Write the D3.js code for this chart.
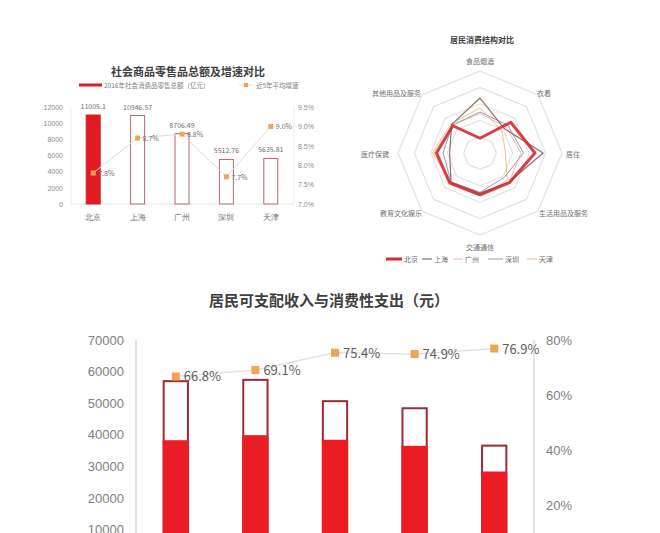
<!DOCTYPE html>
<html><head><meta charset="utf-8">
<script src="https://cdn.jsdelivr.net/npm/d3@7/dist/d3.min.js"></script>
<style>
body{margin:0;background:#fff;}
svg{display:block;font-family:"Noto Sans CJK SC","Microsoft YaHei",sans-serif;}
</style></head>
<body><svg id="c" width="660" height="533"></svg>
<script>
// ---------- Data ----------
const retailCities = ["北京","上海","广州","深圳","天津"];
const retailTotals = [11005.1, 10946.57, 8706.49, 5512.76, 5635.81];
const retailTotalLabels = ["11005.1","10946.57","8706.49","5512.76","5635.81"];
const retailGrowth = [7.8, 8.7, 8.8, 7.7, 9.0];
const retailLeftTicks = [0,2000,4000,6000,8000,10000,12000];
const retailRightTicks = [7.0,7.5,8.0,8.5,9.0,9.5];

const radarAxes = ["食品烟酒","衣着","居住","生活用品及服务","交通通信","教育文化娱乐","医疗保健","其他用品及服务"];
const radarSeriesNames = ["北京","上海","广州","深圳","天津"];
const radarBeijing  = [0.18, 0.53, 0.67, 0.51, 0.51, 0.52, 0.53, 0.47];
const radarShanghai = [0.67, 0.42, 0.77, 0.50, 0.49, 0.50, 0.37, 0.49];
const radarGuangzhou= [0.48, 0.45, 0.50, 0.50, 0.50, 0.52, 0.56, 0.48];
const radarShenzhen = [0.50, 0.48, 0.53, 0.42, 0.48, 0.50, 0.45, 0.48];
const radarTianjin  = [0.55, 0.38, 0.31, 0.47, 0.52, 0.51, 0.58, 0.50];

const incomeCities = ["北京","上海","广州","深圳","天津"];
const incomeDisposable = [57275, 57692, 50941, 48695, 36860];
const incomeConsumption = [38256, 39857, 38398, 36481, 28345];
const consumptionRate = [66.8, 69.1, 75.4, 74.9, 76.9];
const incomeLeftTicks = [10000,20000,30000,40000,50000,60000,70000];
const incomeRightTicks = [20,40,60,80];

// ---------- Setup ----------
const svg = d3.select("#c");
const RED = "#e41a22", OUT = "#b9686a", ORANGE = "#f0a452", GRID = "#dcdcdc";

// ===== Chart 1: retail =====
(function(){
  const g = svg.append("g");
  const x = d3.scaleBand().domain(retailCities).range([71,293]).paddingInner(0.685).paddingOuter(0.3425);
  const yL = d3.scaleLinear().domain([0,12000]).range([204,107]);
  const yR = d3.scaleLinear().domain([7.0,9.5]).range([204,107]);

  g.append("text").attr("x",188).attr("y",76).attr("text-anchor","middle")
    .attr("font-size",11).attr("font-weight","bold").attr("fill","#404040").text("社会商品零售品总额及增速对比");
  // legend
  g.append("rect").attr("x",79).attr("y",83.5).attr("width",23).attr("height",3).attr("fill",RED);
  g.append("text").attr("x",104).attr("y",87.5).attr("font-size",6.5).attr("fill","#808080").text("2016年社会消费品零售总额（亿元）");
  g.append("line").attr("x1",239).attr("x2",253).attr("y1",85).attr("y2",85).attr("stroke",GRID);
  g.append("rect").attr("x",244).attr("y",83).attr("width",4).attr("height",4).attr("fill",ORANGE);
  g.append("text").attr("x",256).attr("y",87.5).attr("font-size",6.5).attr("fill","#808080").text("近5年平均增速");

  // axes lines
  g.append("line").attr("x1",71).attr("x2",71).attr("y1",107).attr("y2",204).attr("stroke","#ececec");
  g.append("line").attr("x1",294).attr("x2",294).attr("y1",107).attr("y2",204).attr("stroke","#ececec");
  g.append("line").attr("x1",71).attr("x2",294).attr("y1",204).attr("y2",204).attr("stroke","#e4e4e4");

  const la = d3.axisLeft(yL).tickValues(retailLeftTicks).tickSize(0).tickPadding(8).tickFormat(d3.format("d"));
  g.append("g").attr("transform","translate(71,0)").call(la)
    .call(s=>{s.select(".domain").remove(); s.selectAll("text").attr("font-size",7).attr("fill","#8c8c8c").attr("font-family","inherit");});
  const ra = d3.axisRight(yR).tickValues(retailRightTicks).tickSize(0).tickPadding(4).tickFormat(d=>d.toFixed(1)+"%");
  g.append("g").attr("transform","translate(294,0)").call(ra)
    .call(s=>{s.select(".domain").remove(); s.selectAll("text").attr("font-size",7).attr("fill","#8c8c8c").attr("font-family","inherit");});
  const xa = d3.axisBottom(x).tickSize(0).tickPadding(10);
  g.append("g").attr("transform","translate(0,204)").call(xa)
    .call(s=>{s.select(".domain").remove(); s.selectAll("text").attr("font-size",8).attr("fill","#707070").attr("font-family","inherit");});

  g.selectAll(".b1").data(retailCities).join("rect")
    .attr("x",d=>x(d)).attr("width",x.bandwidth())
    .attr("y",(d,i)=>yL(retailTotals[i])).attr("height",(d,i)=>yL(0)-yL(retailTotals[i]))
    .attr("fill",(d,i)=>i===0?RED:"#fff").attr("stroke",(d,i)=>i===0?"#c8222a":OUT).attr("stroke-width",1);
  g.selectAll(".bl1").data(retailCities).join("text")
    .attr("x",d=>x(d)+x.bandwidth()/2).attr("y",(d,i)=>yL(retailTotals[i])-6)
    .attr("text-anchor","middle").attr("font-size",7).attr("fill","#707070").text((d,i)=>retailTotalLabels[i]);

  const line = d3.line().x((d,i)=>x(retailCities[i])+x.bandwidth()/2).y(d=>yR(d));
  g.append("path").datum(retailGrowth).attr("d",line).attr("fill","none").attr("stroke",GRID).attr("stroke-width",1);
  g.selectAll(".m1").data(retailGrowth).join("rect")
    .attr("x",(d,i)=>x(retailCities[i])+x.bandwidth()/2-2.5).attr("y",d=>yR(d)-2.5)
    .attr("width",5).attr("height",5).attr("fill",ORANGE);
  g.selectAll(".ml1").data(retailGrowth).join("text")
    .attr("x",(d,i)=>x(retailCities[i])+x.bandwidth()/2+5).attr("y",d=>yR(d)+3)
    .attr("font-size",7).attr("fill","#707070").text(d=>d.toFixed(1)+"%");
})();

// ===== Chart 2: radar =====
(function(){
  const g = svg.append("g");
  const cx = 480, cy = 153, R = 82;
  const r = d3.scaleLinear().domain([0,1]).range([0,R]);
  const n = radarAxes.length;
  const ang = i => i*2*Math.PI/n;

  g.append("text").attr("x",482).attr("y",43).attr("text-anchor","middle")
    .attr("font-size",8).attr("font-weight","bold").attr("fill","#404040").text("居民消费结构对比");

  const gg = g.append("g").attr("transform",`translate(${cx},${cy})`);
  const radial = d3.lineRadial().angle((d,i)=>ang(i)).radius(d=>r(d)).curve(d3.curveLinearClosed);
  [0.2,0.4,0.6,0.8,1.0].forEach(v=>{
    gg.append("path").attr("d",radial(d3.range(n).map(()=>v))).attr("fill","none").attr("stroke","#e3e3e3").attr("stroke-width",1.2);
  });

  const series = [
    {name:"北京", vals:radarBeijing, color:"#d62a30", w:3, op:0.9},
    {name:"上海", vals:radarShanghai, color:"#8a7070", w:1.2, op:1},
    {name:"广州", vals:radarGuangzhou, color:"#f2b8b0", w:1, op:1},
    {name:"深圳", vals:radarShenzhen, color:"#9a9aa8", w:1, op:1},
    {name:"天津", vals:radarTianjin, color:"#e9c48c", w:1, op:1}
  ];
  [2,4,3,1,0].forEach(k=>{
    const s = series[k];
    gg.append("path").attr("d",radial(s.vals)).attr("fill","none").attr("stroke",s.color)
      .attr("stroke-width",s.w).attr("stroke-opacity",s.op).attr("stroke-linejoin","round");
  });

  const labelPos = [
    {x:480,y:64,a:"middle"},{x:537,y:96,a:"start"},{x:566,y:157,a:"start"},{x:539,y:216,a:"start"},
    {x:480,y:250,a:"middle"},{x:422,y:216,a:"end"},{x:389,y:157,a:"end"},{x:421,y:96,a:"end"}
  ];
  radarAxes.forEach((t,i)=>{
    g.append("text").attr("x",labelPos[i].x).attr("y",labelPos[i].y).attr("text-anchor",labelPos[i].a)
      .attr("font-size",7).attr("fill","#707070").text(t);
  });

  const legX = [[386,402],[422,432],[453,463],[488,503],[527,537]];
  series.forEach((s,i)=>{
    g.append("line").attr("x1",legX[i][0]).attr("x2",legX[i][1]).attr("y1",259).attr("y2",259)
      .attr("stroke",s.color).attr("stroke-width",s.w);
    g.append("text").attr("x",legX[i][1]+2).attr("y",261.5).attr("font-size",7).attr("fill","#707070").text(radarSeriesNames[i]);
  });
})();

// ===== Chart 3: income =====
(function(){
  const g = svg.append("g");
  const x = d3.scaleBand().domain(incomeCities).range([136,534]).paddingInner(0.67).paddingOuter(0.335);
  const yL = d3.scaleLinear().domain([0,70000]).range([561,340]);
  const yR = d3.scaleLinear().domain([0,80]).range([561,340]);

  g.append("text").attr("x",329).attr("y",306).attr("text-anchor","middle")
    .attr("font-size",15).attr("font-weight","bold").attr("fill","#404040").text("居民可支配收入与消费性支出（元）");

  g.append("line").attr("x1",136).attr("x2",136).attr("y1",340).attr("y2",561).attr("stroke","#d0d0d0").attr("stroke-width",1.2);
  g.append("line").attr("x1",534).attr("x2",534).attr("y1",340).attr("y2",561).attr("stroke","#d0d0d0").attr("stroke-width",1.2);

  const la = d3.axisLeft(yL).tickValues(incomeLeftTicks).tickSize(0).tickPadding(12).tickFormat(d3.format("d"));
  g.append("g").attr("transform","translate(136,0)").call(la)
    .call(s=>{s.select(".domain").remove(); s.selectAll("text").attr("font-size",13).attr("fill","#808080").attr("font-family","inherit");});
  const ra = d3.axisRight(yR).tickValues(incomeRightTicks).tickSize(0).tickPadding(12).tickFormat(d=>d+"%");
  g.append("g").attr("transform","translate(534,0)").call(ra)
    .call(s=>{s.select(".domain").remove(); s.selectAll("text").attr("font-size",13).attr("fill","#808080").attr("font-family","inherit");});

  g.selectAll(".tot").data(incomeCities).join("rect")
    .attr("x",d=>x(d)+1).attr("width",x.bandwidth()-2)
    .attr("y",(d,i)=>yL(incomeDisposable[i])+1).attr("height",(d,i)=>yL(0)-yL(incomeDisposable[i]))
    .attr("fill","#fff").attr("stroke","#9e2a34").attr("stroke-width",2);
  g.selectAll(".con").data(incomeCities).join("rect")
    .attr("x",d=>x(d)).attr("width",x.bandwidth())
    .attr("y",(d,i)=>yL(incomeConsumption[i])).attr("height",(d,i)=>yL(0)-yL(incomeConsumption[i]))
    .attr("fill","#ea1c24");

  const line = d3.line().x((d,i)=>x(incomeCities[i])+x.bandwidth()/2).y(d=>yR(d));
  g.append("path").datum(consumptionRate).attr("d",line).attr("fill","none").attr("stroke","#dedede").attr("stroke-width",1.2);
  g.selectAll(".m3").data(consumptionRate).join("rect")
    .attr("x",(d,i)=>x(incomeCities[i])+x.bandwidth()/2-4).attr("y",d=>yR(d)-4)
    .attr("width",8).attr("height",8).attr("fill",ORANGE);
  g.selectAll(".ml3").data(consumptionRate).join("text")
    .attr("x",(d,i)=>x(incomeCities[i])+x.bandwidth()/2+8).attr("y",d=>yR(d)+5)
    .attr("font-size",13).attr("fill","#606060").text(d=>d.toFixed(1)+"%");
})();
</script></body></html>
